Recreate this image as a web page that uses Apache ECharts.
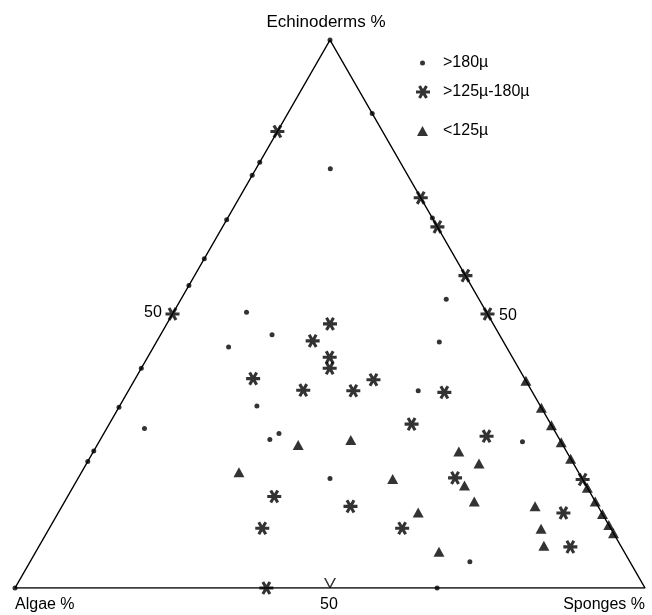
<!DOCTYPE html>
<html>
<head>
<meta charset="utf-8">
<script src="https://cdn.jsdelivr.net/npm/echarts@6/dist/echarts.min.js"></script>
<style>html,body{margin:0;padding:0;background:#fff;}#c{width:652px;height:615px;}</style>
</head>
<body>
<div id="c"></div>
<script>
// Ternary compositions: [Echinoderms %, Sponges %]  (Algae % = 100 - both)
const coarse = [ // >180µ
  [100,0],[86.6,13.4],[76.5,11.8],[67.5,32.5],[52.7,42.1],[44.9,44.9],[36.0,46.0],[26.7,67.2],
  [20.0,40.0],[4.8,69.8],[50.3,11.6],[46.2,17.7],[44.0,11.9],[33.2,21.8],[29.1,6.0],[27.1,26.9],
  [28.2,27.8],[77.7,0],[75.3,0],[67.2,0],[60.1,0],[55.2,0],[40.1,0],[33.0,0],[25.0,0],[23.1,0],
  [0,0],[0,67]
];
const medium = [ // >125µ-180µ
  [83.3,0],[50,0],[71.2,28.8],[65.9,34.1],[57.0,43.0],[50,50],[19.8,80.2],
  [48.2,25.9],[45.1,24.7],[42.1,28.9],[40.1,29.9],[38.2,18.7],[36.1,27.7],[36.0,35.7],[38.0,37.9],
  [35.7,50.3],[29.9,48.0],[27.7,61.0],[20.1,59.8],[16.7,32.8],[14.9,45.8],[10.9,33.8],[10.9,56.0],
  [13.7,80.2],[7.5,84.4],[0,39.9]
];
const fine = [ // <125µ
  [37.8,62.2],[32.9,67.1],[29.7,70.3],[26.6,73.4],[23.6,76.4],[18.3,81.7],[15.8,84.2],[13.5,86.5],
  [11.5,88.5],[10.0,90.0],
  [26.1,31.9],[21.1,25.0],[27.0,39.8],[24.9,58.0],[22.7,62.3],[19.9,50.0],[18.7,62.0],[15.8,65.0],
  [13.8,57.1],[6.6,64.0],[14.9,75.1],[10.8,78.1],[7.7,80.1]
];
const vMark = [[0,50]];
const frame = [[0,0],[0,100],[100,0],[0,0]]; // vertices: Algae, Sponges, Echinoderms, back to Algae

const seriesNames = ['>180\u00b5', '>125\u00b5-180\u00b5', '<125\u00b5'];
const axisLabels = { top: 'Echinoderms %', left: 'Algae %', right: 'Sponges %', mid: '50' };

const H = Math.sqrt(3) / 2;
function toXY(list) { return list.map(p => [p[1] + p[0] / 2, p[0] * H]); }

const starPath = 'path://M-1,-0.22L1,-0.22L1,0.22L-1,0.22Z' +
  'M-0.31,-0.976L0.69,0.756L0.31,0.976L-0.69,-0.756Z' +
  'M-0.69,0.756L0.31,-0.976L0.69,-0.756L-0.31,0.976Z';
const vPath = 'path://M0,0L0.28,0L1,1.3L1.72,0L2,0L1.12,1.6L0.88,1.6Z';

const font = '"Liberation Sans", Arial, Helvetica, sans-serif';
const chart = echarts.init(document.getElementById('c'), null, { renderer: 'canvas' });

function legendAt(name, left, top, icon, w, h, pad) {
  return {
    data: [{ name: name, icon: icon }], left: left, top: top, orient: 'vertical',
    itemWidth: w, itemHeight: h, itemGap: 0, padding: 0, selectedMode: false,
    textStyle: { fontFamily: font, fontSize: 16, color: '#000', padding: [0, 0, 0, pad] }
  };
}

chart.setOption({
  animation: false,
  backgroundColor: '#fff',
  grid: { left: 15, right: 7, top: 40, bottom: 27 },
  xAxis: { type: 'value', min: 0, max: 100, show: false },
  yAxis: { type: 'value', min: 0, max: 100 * H, show: false },
  legend: [
    legendAt(seriesNames[0], 420, 55, 'circle', 5, 5, 13),
    legendAt(seriesNames[1], 416, 84, starPath, 14, 14, 8),
    legendAt(seriesNames[2], 417, 123, 'triangle', 11, 10, 10)
  ],
  graphic: [
    { type: 'text', left: 'center', top: 14, style: { text: axisLabels.top, font: '17px ' + font, fill: '#000' } },
    { type: 'text', left: 15, top: 597, style: { text: axisLabels.left, font: '16px ' + font, fill: '#000' } },
    { type: 'text', right: 7, top: 597, style: { text: axisLabels.right, font: '16px ' + font, fill: '#000' } },
    { type: 'text', left: 320, top: 597, style: { text: axisLabels.mid, font: '16px ' + font, fill: '#000' } },
    { type: 'text', left: 144, top: 305, style: { text: axisLabels.mid, font: '16px ' + font, fill: '#000' } },
    { type: 'text', left: 499, top: 308, style: { text: axisLabels.mid, font: '16px ' + font, fill: '#000' } }
  ],
  series: [
    {
      type: 'line', data: toXY(frame), symbol: 'none', silent: true,
      lineStyle: { color: '#000', width: 1.5 }, z: 1
    },
    {
      name: seriesNames[0], type: 'scatter', data: toXY(coarse), symbol: 'circle', symbolSize: 5,
      itemStyle: { color: '#000' }, z: 3
    },
    {
      name: seriesNames[1], type: 'scatter', data: toXY(medium), symbol: starPath, symbolSize: 14,
      symbolKeepAspect: true, itemStyle: { color: '#000' }, z: 3
    },
    {
      name: seriesNames[2], type: 'scatter', data: toXY(fine), symbol: 'triangle', symbolSize: [11, 10],
      itemStyle: { color: '#000' }, z: 3
    },
    {
      type: 'scatter', data: toXY(vMark), symbol: vPath, symbolSize: [12, 10], symbolOffset: [0, -5],
      itemStyle: { color: '#000' }, z: 3
    }
  ]
});
</script>
</body>
</html>
